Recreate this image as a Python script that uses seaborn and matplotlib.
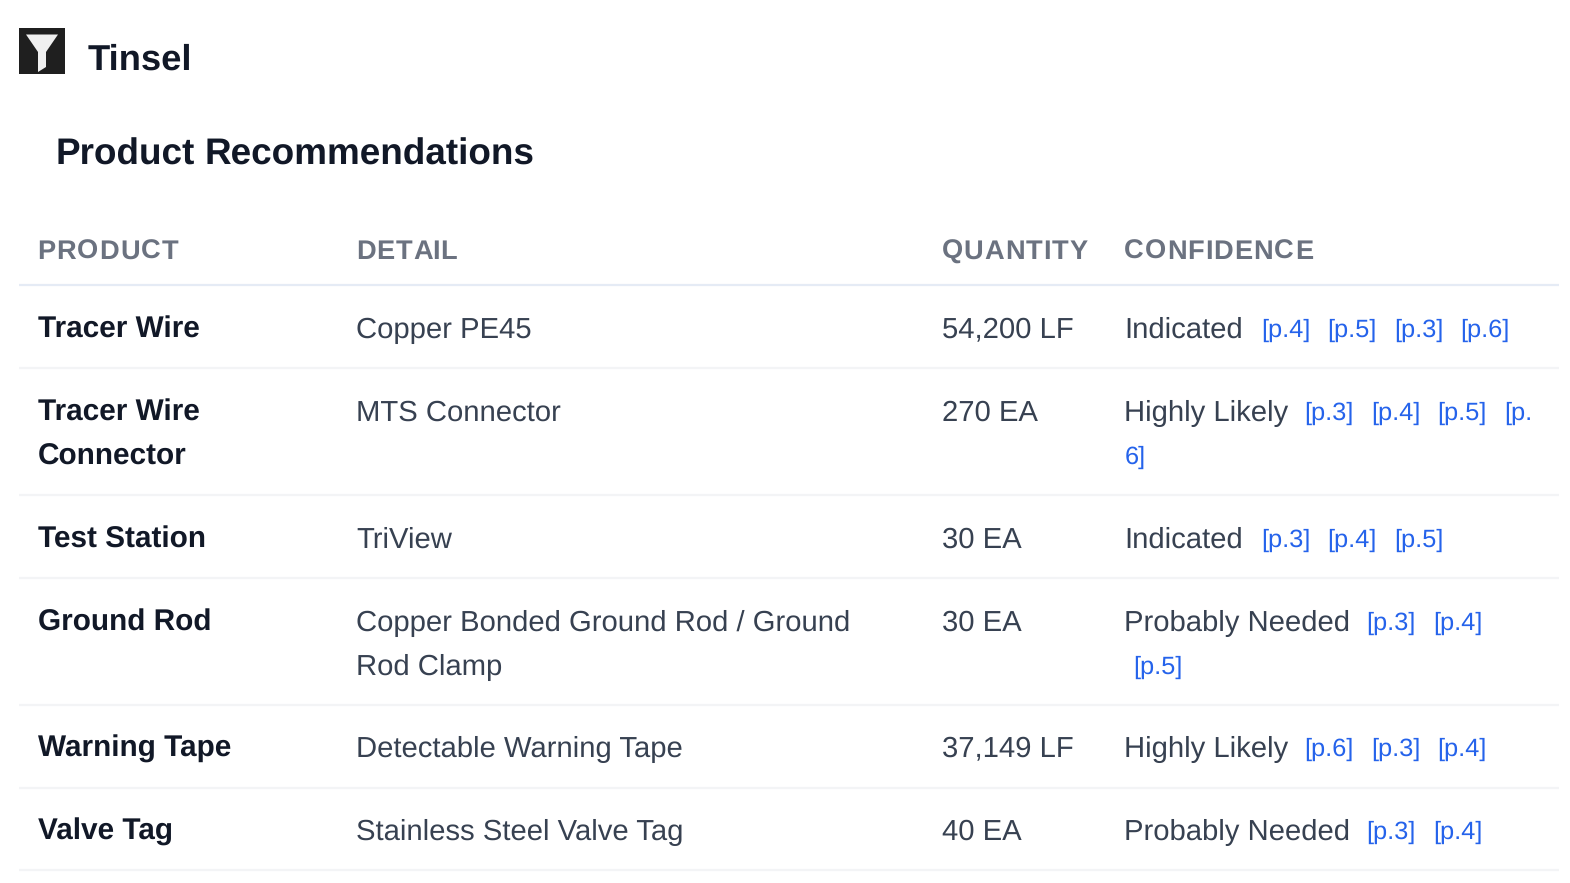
import matplotlib
matplotlib.use("Agg")
import matplotlib.pyplot as plt
import seaborn as sns
from matplotlib.patches import Rectangle, Polygon
from matplotlib.textpath import TextPath
from matplotlib.font_manager import FontProperties

sns.set_theme(style="white")
plt.rcParams['font.family'] = ['Liberation Sans', 'DejaVu Sans']
plt.rcParams['text.hinting'] = 'no_hinting'
plt.rcParams['text.hinting_factor'] = 8

W, H = 1570, 883
brand = "Tinsel"
title_words = ["Product", "Recommendations"]
headers = ["PRODUCT", "DETAIL", "QUANTITY", "CONFIDENCE"]
products = [["Tracer Wire"], ["Tracer Wire", "Connector"], ["Test Station"], ["Ground Rod"], ["Warning Tape"], ["Valve Tag"]]
details = [["Copper PE45"], ["MTS Connector"], ["TriView"], ["Copper Bonded Ground Rod / Ground", "Rod Clamp"], ["Detectable Warning Tape"], ["Stainless Steel Valve Tag"]]
quantities = ["54,200 LF", "270 EA", "30 EA", "30 EA", "37,149 LF", "40 EA"]
confidence = ["Indicated", "Highly Likely", "Indicated", "Probably Needed", "Highly Likely", "Probably Needed"]
# (x, line, text)
refs = [
    [(1261, 0, "[p.4]"), (1327.5, 0, "[p.5]"), (1394, 0, "[p.3]"), (1460.5, 0, "[p.6]")],
    [(1304.5, 0, "[p.3]"), (1371, 0, "[p.4]"), (1437.5, 0, "[p.5]"), (1504, 0, "[p."), (1124.5, 1, "6]")],
    [(1261, 0, "[p.3]"), (1327.5, 0, "[p.4]"), (1394, 0, "[p.5]")],
    [(1366.5, 0, "[p.3]"), (1433, 0, "[p.4]"), (1133, 1, "[p.5]")],
    [(1304.5, 0, "[p.6]"), (1371, 0, "[p.3]"), (1437.5, 0, "[p.4]")],
    [(1366.5, 0, "[p.3]"), (1433, 0, "[p.4]")],
]
row_y = [329, 412, 539, 622, 748, 831]
rules = [285, 368, 495, 578, 704.5, 787.5, 870]
col_x = [38, 356.5, 942, 1124.5]
LINE = 44

fig = plt.figure(figsize=(W/100, H/100), dpi=100, facecolor="white")
ax = fig.add_axes([0, 0, 1, 1])
ax.set_xlim(0, W); ax.set_ylim(H, 0); ax.axis("off")

DARK = "#111827"; BODY = "#374151"; GREY = "#6b7280"; BLUE = "#2563eb"
PX = 0.72

def width(s, px, weight="normal"):
    fp = FontProperties(family="Liberation Sans", weight=weight, size=px)
    return TextPath((0, 0), s, prop=fp).get_extents().x1 if s.strip() else 0

def spaced(x, y, s, px, gap, **kw):
    for i, ch in enumerate(s):
        ax.text(x + width(s[:i] + "|", px, kw.get("fontweight", "normal")) - width("|", px, kw.get("fontweight", "normal")) + i*gap,
                y, ch, fontsize=px*PX, va="baseline", **kw)

ax.add_patch(Rectangle((19, 28), 46, 46, fc="#1f1f1f", ec="none"))
ax.add_patch(Polygon([(26, 34.5), (58, 34.5), (46, 52), (46, 67), (38, 72), (38, 52)], fc="#f0f0f0", ec="none"))
ax.text(88, 70, brand, fontsize=36.4*PX, fontweight="bold", color=DARK, va="baseline")
ax.text(56, 164.5, title_words[0], fontsize=36.9*PX, fontweight="bold", color=DARK, va="baseline")
ax.text(205, 164.5, title_words[1], fontsize=36.9*PX, fontweight="bold", color=DARK, va="baseline")
for x, h in zip(col_x, headers):
    spaced(x - 0.5, 259, h, 27.2, 1.0, fontweight="bold", color=GREY)
for j, y in enumerate(rules):
    ax.plot([19, 1559], [y, y], color="#e5ebf5" if j == 0 else "#f3f4f6", lw=1.6, solid_capstyle="butt")
for i, y in enumerate(row_y):
    for k, s in enumerate(products[i]):
        ax.text(col_x[0], y + 9 + k*LINE, s, fontsize=29.7*PX, fontweight="bold", color=DARK, va="baseline")
    for k, s in enumerate(details[i]):
        ax.text(col_x[1], y + 8.5 + k*LINE, s, fontsize=29.3*PX, color=BODY, va="baseline")
    ax.text(col_x[2], y + 8.5, quantities[i], fontsize=29.3*PX, color=BODY, va="baseline")
    ax.text(col_x[3], y + 8.5, confidence[i], fontsize=29.3*PX, color=BODY, va="baseline")
    for x, ln, s in refs[i]:
        ax.text(x, y + 8 + ln*LINE, s, fontsize=25.4*PX, color=BLUE, va="baseline")

fig.savefig("out.png", dpi=100, facecolor="white")
